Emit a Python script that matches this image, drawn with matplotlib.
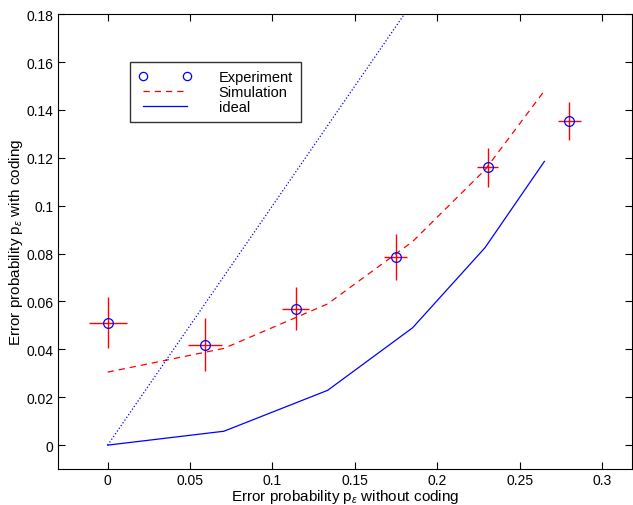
import matplotlib
matplotlib.use("Agg")
import matplotlib.pyplot as plt

plt.rcParams["font.family"] = ["Liberation Sans", "DejaVu Sans"]
plt.rcParams["mathtext.fontset"] = "custom"
plt.rcParams["mathtext.rm"] = "Liberation Sans"
plt.rcParams["mathtext.it"] = "Liberation Sans:italic"

# experiment
exp_x = [0.0, 0.059, 0.114, 0.1747, 0.2305, 0.280]
exp_y = [0.0512, 0.042, 0.057, 0.0785, 0.116, 0.1355]
exp_xerr = [0.0115, 0.0105, 0.008, 0.007, 0.0065, 0.007]
exp_yerr = [0.0105, 0.011, 0.009, 0.0095, 0.008, 0.008]

# simulation and ideal curves
curve_x = [0.0, 0.0705, 0.1335, 0.185, 0.229, 0.265]
sim_y = [0.0305, 0.0404, 0.059, 0.085, 0.115, 0.148]
ideal_y = [0.0, 0.0058, 0.0229, 0.049, 0.0825, 0.1185]

# p_c = p_e reference line
diag_x = [0.0, 0.2]
diag_y = [0.0, 0.2]

xticks = [0, 0.05, 0.1, 0.15, 0.2, 0.25, 0.3]
xticklabels = ["0", "0.05", "0.1", "0.15", "0.2", "0.25", "0.3"]
yticks = [0, 0.02, 0.04, 0.06, 0.08, 0.1, 0.12, 0.14, 0.16, 0.18]
yticklabels = ["0", "0.02", "0.04", "0.06", "0.08", "0.1", "0.12", "0.14", "0.16", "0.18"]

fig = plt.figure(figsize=(6.33, 5.06), dpi=100)
ax = fig.add_axes([0.092, 0.071, 0.906, 0.899])

ax.errorbar(exp_x, exp_y, xerr=exp_xerr, yerr=exp_yerr, fmt="none",
            ecolor="red", elinewidth=1.0, capsize=0, zorder=3)
ax.plot(exp_x, exp_y, "o", mfc="none", mec="blue", ms=7, mew=0.9,
        label="Experiment", zorder=4)
ax.plot(curve_x, sim_y, "--", color="red", lw=0.9, dashes=(5, 4),
        label="Simulation")
ax.plot(curve_x, ideal_y, "-", color="blue", lw=0.9, label="ideal")
ax.plot(diag_x, diag_y, ":", color="blue", lw=0.9)

ax.set_xlim(-0.03, 0.318)
ax.set_ylim(-0.01, 0.18)
ax.set_xticks(xticks)
ax.set_xticklabels(xticklabels)
ax.set_yticks(yticks)
ax.set_yticklabels(yticklabels)
ax.tick_params(direction="in", top=True, right=True, labelsize=10, length=5)
ax.tick_params(axis="x", pad=3)

ax.set_xlabel(r"Error probability p$_\varepsilon$ without coding", fontsize=11, labelpad=-0.5)
ax.set_ylabel(r"Error probability p$_\varepsilon$ with coding", fontsize=11, labelpad=1)

leg = ax.legend(loc="upper left", bbox_to_anchor=(0.126, 0.894), numpoints=2,
                fontsize=10.5, frameon=True, fancybox=False, edgecolor="black",
                handlelength=3.6, borderpad=0.55, labelspacing=0.05,
                handletextpad=1.9, borderaxespad=0, markerscale=0.85)
leg.get_frame().set_linewidth(1.0)

fig.savefig("out.png", dpi=100)
